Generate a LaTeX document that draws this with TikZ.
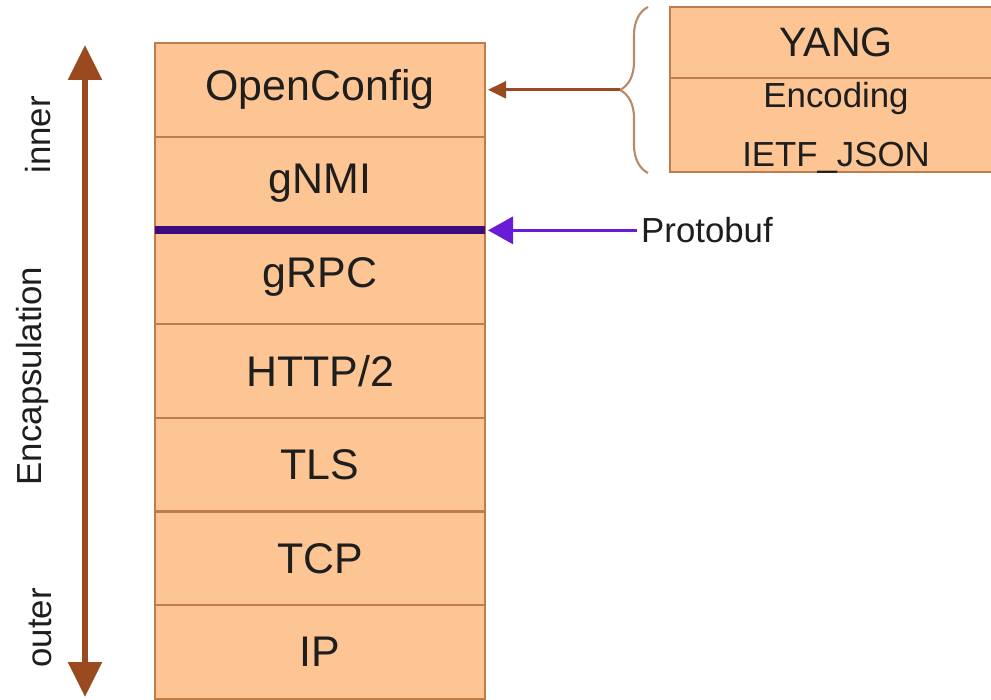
\documentclass[tikz,border=0pt]{standalone}
\usepackage{fontspec}
\setmainfont{Liberation Sans}
\usepackage{tikz}
\usetikzlibrary{positioning,arrows.meta,decorations.pathreplacing}
\definecolor{layerfill}{HTML}{FDC593}
\definecolor{layerline}{HTML}{BE7D4B}
\definecolor{encbrown}{HTML}{9A4A1E}
\definecolor{bracebrown}{HTML}{B88A66}
\definecolor{pbline}{HTML}{3E0A80}
\definecolor{pbarrow}{HTML}{6A1BD6}
\definecolor{txt}{HTML}{1E1E1E}

\begin{document}
\begin{tikzpicture}[node distance=0pt, every node/.style={text=txt},
  layer/.style={draw=layerline, fill=layerfill, line width=0.6pt, outer sep=0pt,
    minimum width=3.30cm, minimum height=0.937cm, inner sep=0pt,
    font=\fontsize{12.2}{14}\selectfont},
  yangbox/.style={draw=layerline, fill=layerfill, line width=0.6pt, outer sep=0pt,
    minimum width=3.32cm, inner sep=0pt},
  small/.style={font=\fontsize{9.9}{12}\selectfont, inner sep=1pt},
  side/.style={rotate=90, font=\fontsize{9.9}{12}\selectfont}]
\useasboundingbox (0,0) rectangle (9.91,6.99);

% protocol stack
\node[layer] (oc) at (3.20,6.092) {OpenConfig};
\node[layer] (gnmi) [below=of oc] {gNMI};
\node[layer] (grpc) [below=of gnmi] {gRPC};
\node[layer] (http) [below=of grpc] {HTTP/2};
\node[layer] (tls) [below=of http] {TLS};
\node[layer] (tcp) [below=of tls] {TCP};
\node[layer] (ip) [below=of tcp] {IP};

\draw[pbline, line width=2.3pt] (gnmi.south west) -- (gnmi.south east);

% YANG box
\node[yangbox, minimum height=0.71cm, font=\fontsize{11.7}{14}\selectfont] (yang) at (8.36,6.565) {YANG};
\node[yangbox, minimum height=0.94cm] (encbox) [below=of yang] {};
\node[small] (enc) at ([yshift=-0.21cm]encbox.north) {Encoding};
\node[small] (json) at ([yshift=0.14cm]encbox.south) {IETF\_JSON};

\draw[bracebrown, line width=0.6pt, decorate, decoration={brace, amplitude=0.28cm}]
  (6.48,5.26) -- (6.48,6.92);
\coordinate[right=1.35cm of oc.east] (bt);
\draw[encbrown, line width=0.8pt, -{Triangle[length=0.18cm, width=0.17cm]}] (bt) -- ([xshift=0.03cm]oc.east);

% protobuf
\node[small, right=1.52cm of gnmi.south east] (pb) {Protobuf};
\draw[pbarrow, line width=1pt, -{Triangle[length=0.25cm, width=0.27cm]}] (pb.west) -- ([xshift=0.03cm]gnmi.south east);

% encapsulation direction
\coordinate (enctop) at (0.85,6.54);
\coordinate (encbot) at (0.85,0.02);
\draw[encbrown, line width=1.6pt, {Triangle[length=0.35cm, width=0.33cm]}-{Triangle[length=0.35cm, width=0.33cm]}] (encbot) -- (enctop);
\node[side] (inner) at (0.38,5.64) {inner};
\node[side] (encap) at (0.33,3.23) {Encapsulation};
\node[side] (outer) at (0.40,0.71) {outer};
\end{tikzpicture}
\end{document}
